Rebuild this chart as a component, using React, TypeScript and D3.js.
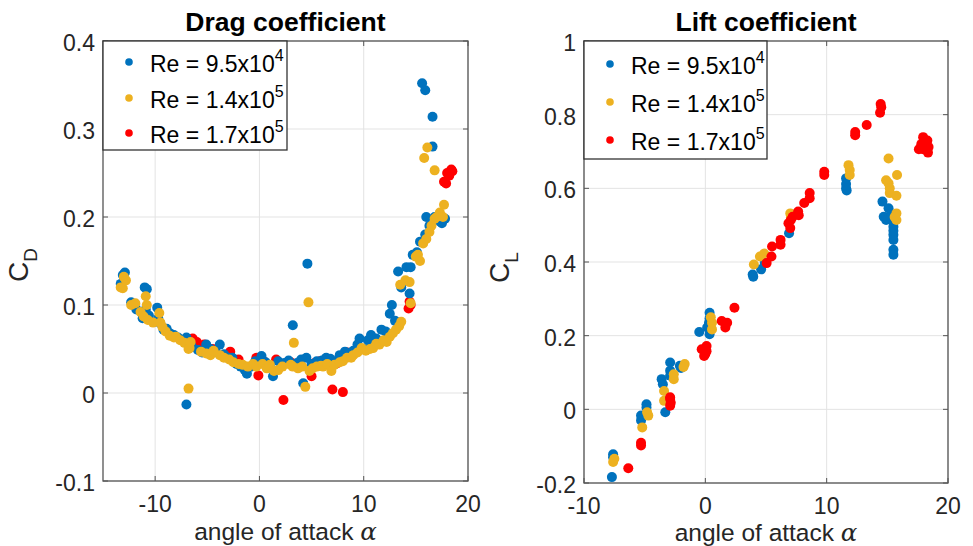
import React from 'react';
import * as d3 from 'd3';

type Pt = [number, number];

const seriesMantissa = ['9.5', '1.4', '1.7'];
const seriesExponent = ['4', '5', '5'];
const seriesColors = ['#0072BD', '#EDB120', '#FF0000'];

// Drag coefficient data (angle, CD)
const dragRe95: Pt[] = [
  [-13.3, 0.124], [-13.1, 0.134], [-12.9, 0.137], [-12.3, 0.103], [-11.8, 0.095], [-11.2, 0.085],
  [-11.0, 0.12], [-10.8, 0.118], [-10.9, 0.095], [-10.6, 0.088], [-9.8, 0.097], [-9.7, 0.085],
  [-9.5, 0.079], [-9.2, 0.072], [-8.9, 0.073], [-8.6, 0.068], [-8.2, 0.066], [-7.8, 0.063],
  [-7.4, 0.06], [-7.0, 0.063], [-6.8, 0.057], [-7.0, -0.013], [-6.5, 0.053], [-5.9, 0.049],
  [-5.5, 0.046], [-5.1, 0.055], [-4.7, 0.05], [-4.2, 0.047], [-3.8, 0.055], [-3.4, 0.044],
  [-3.0, 0.04], [-2.6, 0.04], [-2.2, 0.033], [-1.8, 0.03], [-1.4, 0.026], [-1.2, 0.022],
  [-0.8, 0.03], [-0.4, 0.036], [0.2, 0.042], [0.6, 0.035], [1.0, 0.03], [1.3, 0.019],
  [1.8, 0.036], [2.4, 0.034], [2.8, 0.037], [3.2, 0.077], [3.6, 0.034], [4.0, 0.038],
  [4.2, 0.011], [4.5, 0.04], [4.6, 0.147], [5.0, 0.033], [5.5, 0.036], [6.0, 0.037],
  [6.4, 0.04], [6.8, 0.039], [7.3, 0.036], [7.7, 0.043], [8.2, 0.047], [8.6, 0.045],
  [9.0, 0.048], [9.4, 0.055], [9.6, 0.062], [10.0, 0.05], [10.4, 0.06], [10.7, 0.066],
  [11.2, 0.062], [11.7, 0.072], [12.1, 0.07], [12.5, 0.09], [12.7, 0.1], [13.0, 0.082],
  [13.3, 0.138], [13.6, 0.12], [14.1, 0.143], [14.4, 0.113], [14.5, 0.143], [14.7, 0.157],
  [15.1, 0.16], [15.4, 0.172], [15.6, 0.352], [15.9, 0.344], [16.0, 0.2], [15.9, 0.18],
  [16.3, 0.19], [16.6, 0.314], [16.6, 0.28], [16.8, 0.2], [17.3, 0.195], [17.5, 0.193],
  [17.8, 0.198],
];
const dragRe14: Pt[] = [
  [-13.3, 0.12], [-13.1, 0.119], [-13.0, 0.132], [-12.8, 0.128], [-12.3, 0.1], [-11.9, 0.102],
  [-11.4, 0.092], [-11.1, 0.087], [-10.9, 0.11], [-10.8, 0.1], [-10.7, 0.083], [-10.2, 0.08],
  [-9.6, 0.091], [-9.5, 0.08], [-9.3, 0.075], [-9.0, 0.07], [-8.6, 0.065], [-8.2, 0.063],
  [-8.0, 0.064], [-7.6, 0.06], [-7.2, 0.057], [-6.8, 0.05], [-6.7, 0.051], [-6.6, 0.058],
  [-6.8, 0.005], [-5.6, 0.047], [-5.1, 0.045], [-4.7, 0.043], [-4.4, 0.048], [-3.8, 0.043],
  [-3.4, 0.04], [-2.9, 0.038], [-2.5, 0.035], [-2.0, 0.033], [-1.6, 0.032], [-1.1, 0.03],
  [-0.6, 0.033], [-0.3, 0.03], [0.3, 0.033], [0.7, 0.028], [1.0, 0.032], [1.4, 0.025],
  [1.8, 0.026], [2.2, 0.03], [3.0, 0.032], [3.3, 0.057], [3.2, 0.03], [3.7, 0.028],
  [4.1, 0.03], [4.4, 0.007], [4.7, 0.103], [4.8, 0.025], [5.1, 0.028], [5.5, 0.03],
  [5.9, 0.031], [6.1, 0.03], [6.5, 0.033], [6.9, 0.025], [7.2, 0.032], [7.7, 0.035],
  [8.0, 0.036], [8.4, 0.04], [8.8, 0.04], [9.0, 0.043], [9.4, 0.046], [9.8, 0.051],
  [10.2, 0.048], [10.6, 0.05], [10.9, 0.051], [11.2, 0.056], [11.5, 0.055], [11.9, 0.06],
  [12.2, 0.058], [12.5, 0.064], [12.8, 0.068], [13.1, 0.072], [13.4, 0.076], [13.6, 0.081],
  [13.5, 0.123], [14.0, 0.128], [14.4, 0.126], [14.5, 0.102], [15.0, 0.155], [15.2, 0.157],
  [15.4, 0.15], [15.7, 0.17], [15.8, 0.267], [16.0, 0.175], [16.1, 0.279], [16.3, 0.183],
  [16.5, 0.19], [16.8, 0.198], [16.8, 0.253], [17.0, 0.2], [17.3, 0.205], [17.7, 0.214],
  [17.6, 0.2],
];
const dragRe17: Pt[] = [
  [-6.4, 0.062], [-6.0, 0.058], [-5.3, 0.055], [-4.5, 0.05], [-2.8, 0.047], [-2.0, 0.038],
  [-0.3, 0.04], [-0.1, 0.02], [0.4, 0.036], [1.6, 0.038], [2.3, -0.008], [3.0, 0.035],
  [5.0, 0.019], [5.3, 0.034], [5.8, 0.036], [6.5, 0.035], [7.0, 0.004], [7.5, 0.034],
  [8.0, 0.001], [8.4, 0.046], [14.3, 0.096], [14.4, 0.104], [14.5, 0.1], [17.7, 0.24],
  [17.9, 0.238], [18.0, 0.25], [18.2, 0.247], [18.4, 0.254], [18.5, 0.252],
];

// Lift coefficient data (angle, CL)
const liftRe95: Pt[] = [
  [-7.6, -0.13], [-7.6, -0.122], [-7.7, -0.184], [-5.3, -0.017], [-5.3, -0.03], [-4.85, 0.014],
  [-4.85, 0.005], [-3.3, -0.008], [-3.6, 0.082], [-3.5, 0.068], [-2.9, 0.127], [-2.9, 0.105],
  [-2.9, 0.091], [-2.1, 0.118], [-2.0, 0.112], [-0.5, 0.21], [0.35, 0.262], [0.35, 0.247],
  [0.3, 0.235], [0.35, 0.204], [0.15, 0.222], [3.9, 0.366], [3.95, 0.36], [4.6, 0.38],
  [4.9, 0.397], [6.9, 0.478], [11.6, 0.627], [11.6, 0.612], [11.6, 0.6], [11.65, 0.594],
  [14.6, 0.564], [14.7, 0.523], [14.9, 0.514], [15.1, 0.546], [15.3, 0.53], [15.5, 0.51],
  [15.5, 0.496], [15.5, 0.485], [15.5, 0.474], [15.5, 0.46], [15.5, 0.433], [15.5, 0.42],
];
const liftRe14: Pt[] = [
  [-7.6, -0.143], [-7.5, -0.134], [-5.2, -0.049], [-4.7, -0.017], [-4.8, -0.008], [-3.4, 0.05],
  [-3.4, 0.023], [-2.6, 0.082], [-2.6, 0.095], [-1.7, 0.123], [-1.8, 0.115], [0.55, 0.235],
  [0.55, 0.217], [0.45, 0.25], [4.0, 0.393], [4.5, 0.415], [4.85, 0.423], [7.0, 0.532],
  [7.05, 0.52], [11.8, 0.663], [11.9, 0.65], [11.9, 0.636], [15.1, 0.681], [14.9, 0.622],
  [15.1, 0.614], [15.2, 0.6], [15.2, 0.587], [15.8, 0.636], [15.75, 0.58], [15.75, 0.532],
  [15.75, 0.514], [15.6, 0.522],
];
const liftRe17: Pt[] = [
  [-6.35, -0.16], [-5.3, -0.091], [-5.3, -0.098], [-2.9, 0.033], [-2.9, 0.028], [-2.9, 0.01],
  [-2.85, 0.018], [-0.3, 0.163], [0.0, 0.15], [0.1, 0.172], [-0.1, 0.145], [0.1, 0.158],
  [1.35, 0.24], [1.65, 0.222], [1.8, 0.235], [2.4, 0.276], [5.05, 0.397], [5.45, 0.415],
  [5.5, 0.442], [6.2, 0.46], [6.2, 0.447], [6.85, 0.505], [7.0, 0.492], [7.05, 0.514],
  [7.2, 0.523], [7.65, 0.537], [7.7, 0.527], [8.15, 0.56], [8.6, 0.573], [8.6, 0.587],
  [9.8, 0.645], [9.8, 0.636], [12.35, 0.744], [12.35, 0.753], [13.3, 0.772], [14.4, 0.805],
  [14.45, 0.829], [14.5, 0.82], [17.95, 0.739], [17.95, 0.706], [18.2, 0.716], [18.35, 0.697],
  [17.6, 0.706], [17.8, 0.72], [18.2, 0.725], [18.4, 0.712], [18.3, 0.73],
];

const xTicks = [-10, 0, 10, 20];
const dragYTicks = [-0.1, 0, 0.1, 0.2, 0.3, 0.4];
const dragYLabels = ['-0.1', '0', '0.1', '0.2', '0.3', '0.4'];
const liftYTicks = [-0.2, 0, 0.2, 0.4, 0.6, 0.8, 1];
const liftYLabels = ['-0.2', '0', '0.2', '0.4', '0.6', '0.8', '1'];

const FONT = "'Liberation Sans', Arial, Helvetica, sans-serif";

type PanelProps = {
  x0: number; x1: number; y0: number; y1: number;
  xDomain: [number, number]; yDomain: [number, number];
  yTicks: number[]; yLabels: string[];
  title: string; sub: string;
  series: Pt[][]; order: number[];
  legendBottom: number; legendRight: number; legendRows: number[];
  xLabelY: number; xTickY: number;
};

function Panel(p: PanelProps) {
  const x = d3.scaleLinear().domain(p.xDomain).range([p.x0, p.x1]);
  const y = d3.scaleLinear().domain(p.yDomain).range([p.y1, p.y0]);
  const tl = 5;
  const cx = (p.x0 + p.x1) / 2;
  const cy = (p.y0 + p.y1) / 2;
  return (
    <g fontFamily={FONT}>
      {xTicks.map((t) => (
        <line key={'gx' + t} x1={x(t)} x2={x(t)} y1={p.y0} y2={p.y1} stroke="#e3e3e3" strokeWidth={1} />
      ))}
      {p.yTicks.map((t) => (
        <line key={'gy' + t} x1={p.x0} x2={p.x1} y1={y(t)} y2={y(t)} stroke="#e3e3e3" strokeWidth={1} />
      ))}
      {p.order.map((si) => (
        <g key={'s' + si} fill={seriesColors[si]}>
          {p.series[si].map((d, i) => (
            <circle key={i} cx={x(d[0])} cy={y(d[1])} r={5} />
          ))}
        </g>
      ))}
      {xTicks.map((t) => (
        <g key={'tx' + t} stroke="#555">
          <line x1={x(t)} x2={x(t)} y1={p.y1} y2={p.y1 - tl} />
          <line x1={x(t)} x2={x(t)} y1={p.y0} y2={p.y0 + tl} />
        </g>
      ))}
      {p.yTicks.map((t) => (
        <g key={'ty' + t} stroke="#555">
          <line x1={p.x0} x2={p.x0 + tl} y1={y(t)} y2={y(t)} />
          <line x1={p.x1} x2={p.x1 - tl} y1={y(t)} y2={y(t)} />
        </g>
      ))}
      <rect x={p.x0} y={p.y0} width={p.x1 - p.x0} height={p.y1 - p.y0} fill="none" stroke="#555" strokeWidth={1.3} />
      {xTicks.map((t) => (
        <text key={'lx' + t} x={x(t)} y={p.xTickY} textAnchor="middle" fontSize={23} fill="#262626">{String(t)}</text>
      ))}
      {p.yTicks.map((t, i) => (
        <text key={'ly' + t} x={p.x0 - 8} y={y(t) + 10} textAnchor="end" fontSize={23} fill="#262626">{p.yLabels[i]}</text>
      ))}
      <text x={cx} y={31} textAnchor="middle" fontSize={26.5} fontWeight="bold" fill="#000">{p.title}</text>
      <text x={cx} y={p.xLabelY} textAnchor="middle" fontSize={24.5} fill="#262626">
        angle of attack <tspan fontFamily="'DejaVu Serif', 'Liberation Serif', serif" fontStyle="italic">α</tspan>
      </text>
      <text transform={`translate(${p.x0 - 75},${cy + 21}) rotate(-90)`} fontSize={28} fill="#262626">
        C<tspan fontSize={19} dy={9}>{p.sub}</tspan>
      </text>
      <rect x={p.x0} y={p.y0} width={p.legendRight - p.x0} height={p.legendBottom - p.y0} fill="#fff" stroke="#333" strokeWidth={1.3} />
      {seriesColors.map((c, i) => (
        <g key={'lg' + i}>
          <circle cx={p.x0 + 26} cy={p.legendRows[i]} r={3.8} fill={c} />
          <text x={p.x0 + 47} y={p.legendRows[i] + 10} fontSize={23} fill="#000">
            Re = {seriesMantissa[i]}x10<tspan fontSize={16} dy={-11}>{seriesExponent[i]}</tspan>
          </text>
        </g>
      ))}
    </g>
  );
}

export default function App() {
  return (
    <svg width={973} height={546} style={{ position: 'absolute', left: 0, top: 0, background: '#fff' }}>
      <rect width={973} height={546} fill="#fff" />
      <Panel
        x0={103} x1={468} y0={41} y1={481}
        xDomain={[-15, 20]} yDomain={[-0.1, 0.4]}
        yTicks={dragYTicks} yLabels={dragYLabels}
        title="Drag coefficient" sub="D"
        series={[dragRe95, dragRe14, dragRe17]} order={[2, 0, 1]}
        legendBottom={150} legendRight={287} legendRows={[62, 98, 133]}
        xLabelY={540} xTickY={512}
      />
      <Panel
        x0={584} x1={948} y0={41} y1={483}
        xDomain={[-10, 20]} yDomain={[-0.2, 1]}
        yTicks={liftYTicks} yLabels={liftYLabels}
        title="Lift coefficient" sub="L"
        series={[liftRe95, liftRe14, liftRe17]} order={[0, 1, 2]}
        legendBottom={159} legendRight={767} legendRows={[64, 102, 140]}
        xLabelY={541} xTickY={514}
      />
    </svg>
  );
}
